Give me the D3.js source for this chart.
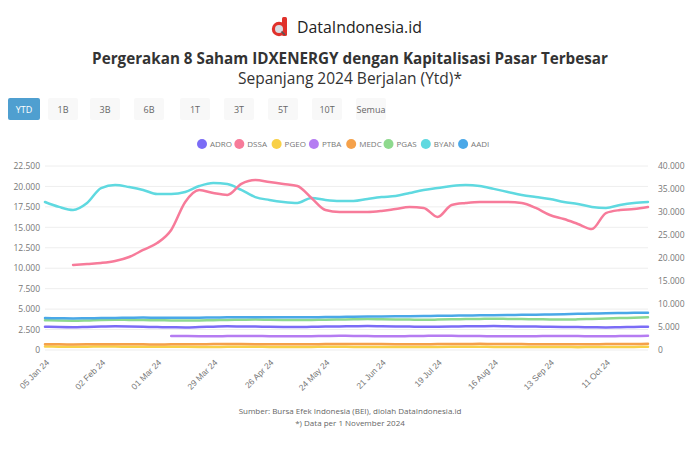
<!DOCTYPE html>
<html><head><meta charset="utf-8">
<script src="https://cdn.jsdelivr.net/npm/d3@7"></script>
<style>
html,body{margin:0;padding:0;background:#fff;}
svg{display:block;font-family:"Open Sans","Noto Sans",sans-serif;}
</style></head>
<body>
<svg id="chart" width="700" height="466"></svg>
<script>
// ---------- DATA ----------
const brand = "DataIndonesia.id";
const title = "Pergerakan 8 Saham IDXENERGY dengan Kapitalisasi Pasar Terbesar";
const subtitle = "Sepanjang 2024 Berjalan (Ytd)*";
const rangeButtons = ["YTD","1B","3B","6B","1T","3T","5T","10T","Semua"];
const sourceLines = ["Sumber: Bursa Efek Indonesia (BEI), diolah DataIndonesia.id",
                     "*) Data per 1 November 2024"];
const startDate = "2024-01-05";           // weekly observations
const weeks = 44;
const seriesNames = ["ADRO","DSSA","PGEO","PTBA","MEDC","PGAS","BYAN","AADI"];
const seriesColors = ["#7b6cf6","#f77b9a","#f8d047","#b57cf2","#f5a14a","#8ed98e","#5fd9e0","#4aa8e8"];
const seriesAxis = ["left","right","left","left","left","left","left","left"];
const leftTicks = [0,2500,5000,7500,10000,12500,15000,17500,20000,22500];
const rightTicks = [0,5000,10000,15000,20000,25000,30000,35000,40000];

const ADRO = [2850,2800,2780,2820,2860,2900,2880,2840,2800,2780,2760,2800,2850,2900,2880,2860,2840,2820,2800,2830,2860,2880,2900,2920,2900,2880,2860,2840,2850,2870,2890,2910,2930,2900,2880,2860,2840,2820,2800,2780,2760,2790,2820,2850];
const DSSA = [null,null,18475,18700,18925,19350,20225,21750,23250,26100,32175,34775,34125,33700,36100,36950,36525,36100,35650,33050,30425,30000,30000,30000,30225,30650,31075,30875,28925,31525,31950,32175,32175,32175,31950,30875,29350,28475,27400,26300,29775,30425,30650,31075];
const PGEO = [420,410,400,410,420,415,405,400,395,390,385,380,380,385,390,385,380,375,370,380,390,385,380,375,370,365,360,370,380,385,390,385,380,375,370,365,360,355,350,360,370,375,380,385];
const PTBA = [null,null,null,null,null,null,null,null,null,1720,1700,1690,1680,1700,1720,1710,1690,1680,1670,1690,1710,1730,1720,1700,1690,1680,1700,1720,1740,1730,1710,1700,1690,1680,1670,1690,1710,1720,1700,1690,1680,1700,1720,1730];
const MEDC = [700,690,680,690,700,710,700,690,680,690,700,710,720,730,720,710,700,690,700,710,720,730,740,730,720,710,700,710,720,730,740,750,740,730,720,710,700,690,700,710,720,730,740,750];
const PGAS = [3650,3600,3580,3620,3680,3700,3680,3660,3640,3620,3600,3620,3650,3680,3700,3720,3700,3680,3660,3680,3700,3720,3750,3780,3760,3740,3720,3700,3720,3750,3780,3800,3820,3800,3780,3760,3740,3720,3750,3800,3850,3900,3950,4000];
const BYAN = [18100,17500,17125,17975,19800,20175,19925,19575,19075,19075,19325,20050,20425,20300,19575,18700,18350,18100,17975,18600,18350,18225,18225,18475,18700,18825,19200,19575,19800,20050,20175,20050,19700,19325,18950,18700,18475,18100,17850,17500,17375,17725,17975,18100];
const AADI = [3900,3880,3860,3880,3900,3920,3940,3960,3950,3940,3930,3950,3970,3990,4000,4020,4010,4000,3990,4010,4030,4050,4070,4090,4100,4120,4140,4160,4180,4200,4220,4240,4260,4280,4300,4320,4340,4380,4420,4460,4500,4520,4540,4560];
const seriesValues = [ADRO,DSSA,PGEO,PTBA,MEDC,PGAS,BYAN,AADI];

// ---------- BUILD ----------
const svg = d3.select("#chart");
const parse = d3.timeParse("%Y-%m-%d");
const dates = d3.range(weeks).map(i => d3.timeDay.offset(parse(startDate), i*7));

function fitText(sel, target){
  const w = sel.node().getComputedTextLength();
  const fs = parseFloat(sel.attr("font-size"));
  sel.attr("font-size", (fs*target/w).toFixed(2));
}

// Header: logo
const logo = svg.append("g").attr("transform","translate(271,17)");
logo.append("rect").attr("x",11).attr("y",0).attr("width",5).attr("height",19).attr("rx",1.5).attr("fill","#e0312b");
logo.append("circle").attr("cx",8).attr("cy",12).attr("r",7.2).attr("fill","#e0312b");
logo.append("circle").attr("cx",8).attr("cy",12).attr("r",4).attr("fill","#d9dde3");
logo.append("line").attr("x1",10.5).attr("y1",14.5).attr("x2",14).attr("y2",18).attr("stroke","#555").attr("stroke-width",1.6);
const brandT = svg.append("text").attr("x",297).attr("y",33).attr("font-size",16).attr("fill","#222")
  .attr("font-family","'Open Sans',sans-serif").attr("font-weight",500).text(brand);
fitText(brandT, 125);

const titleT = svg.append("text").attr("x",350).attr("y",64).attr("text-anchor","middle")
  .attr("font-size",15).attr("font-weight",700).attr("fill","#333").text(title);
fitText(titleT, 516);
const subT = svg.append("text").attr("x",350).attr("y",84).attr("text-anchor","middle")
  .attr("font-size",15).attr("fill","#333").text(subtitle);
fitText(subT, 224);

// Range buttons
const btnX = [8,48,90,134,180,224,268,312,356];
rangeButtons.forEach((b,i)=>{
  const g = svg.append("g").attr("transform",`translate(${btnX[i]},98)`);
  const w = i===0?32:30;
  g.append("rect").attr("width",w).attr("height",22).attr("rx",2)
    .attr("fill", i===0 ? "#4f9fd0" : "#f8f8f8");
  g.append("text").attr("x",w/2).attr("y",15).attr("text-anchor","middle")
    .attr("font-size",9).attr("fill", i===0 ? "#fff" : "#666").text(b);
});

// Legend
const legX0 = 202, legStep = 37.3;
seriesNames.forEach((n,i)=>{
  const g = svg.append("g").attr("transform",`translate(${legX0+i*legStep},144)`);
  g.append("circle").attr("r",5).attr("fill",seriesColors[i]);
  g.append("text").attr("x",8).attr("y",3).attr("font-size",8).attr("fill","#777").text(n);
});

// Scales
const x = d3.scaleTime().domain(d3.extent(dates)).range([45,648]);
const yL = d3.scaleLinear().domain([0,22500]).range([350,166]);
const yR = d3.scaleLinear().domain([0,40000]).range([350,166]);

// Grid
svg.append("g").selectAll("line").data(leftTicks).join("line")
  .attr("x1",45).attr("x2",648).attr("y1",d=>yL(d)).attr("y2",d=>yL(d))
  .attr("stroke","#eeeeee").attr("stroke-width",1);

// Axes
const fmt = d3.format(",");
const axL = svg.append("g").attr("transform","translate(42,0)")
  .call(d3.axisLeft(yL).tickValues(leftTicks).tickFormat(d=>fmt(d).replace(/,/g,".")).tickSize(0).tickPadding(2));
const axR = svg.append("g").attr("transform","translate(656,0)")
  .call(d3.axisRight(yR).tickValues(rightTicks).tickFormat(d=>fmt(d).replace(/,/g,".")).tickSize(0).tickPadding(2));
[axL,axR].forEach(a=>{
  a.select(".domain").remove();
  a.selectAll("text").attr("fill","#777").attr("font-size",8.5).attr("font-family","'Open Sans',sans-serif");
});
const xTicks = dates.filter((d,i)=>i%4===0);
const axX = svg.append("g").attr("transform","translate(0,356)")
  .call(d3.axisBottom(x).tickValues(xTicks).tickFormat(d3.timeFormat("%d %b %y")).tickSize(0).tickPadding(4));
axX.select(".domain").remove();
axX.selectAll("text").attr("fill","#777").attr("font-size",8.5)
  .attr("text-anchor","end").attr("transform","rotate(-45)").attr("dx","-2").attr("dy","4");

// Lines (draw low ones first, then big ones)
const order = [2,4,3,0,5,7,6,1];
order.forEach(i=>{
  const yS = seriesAxis[i]==="left"?yL:yR;
  const line = d3.line().defined(d=>d!==null).x((d,j)=>x(dates[j])).y(d=>yS(d)).curve(d3.curveMonotoneX);
  svg.append("path").datum(seriesValues[i]).attr("d",line)
    .attr("fill","none").attr("stroke",seriesColors[i]).attr("stroke-width",2.5)
    .attr("stroke-linejoin","round").attr("stroke-linecap","round");
});

// Source
sourceLines.forEach((s,i)=>{
  svg.append("text").attr("x",350).attr("y",414+i*12).attr("text-anchor","middle")
    .attr("font-size",8).attr("fill","#666").text(s);
});
</script>
</body></html>
